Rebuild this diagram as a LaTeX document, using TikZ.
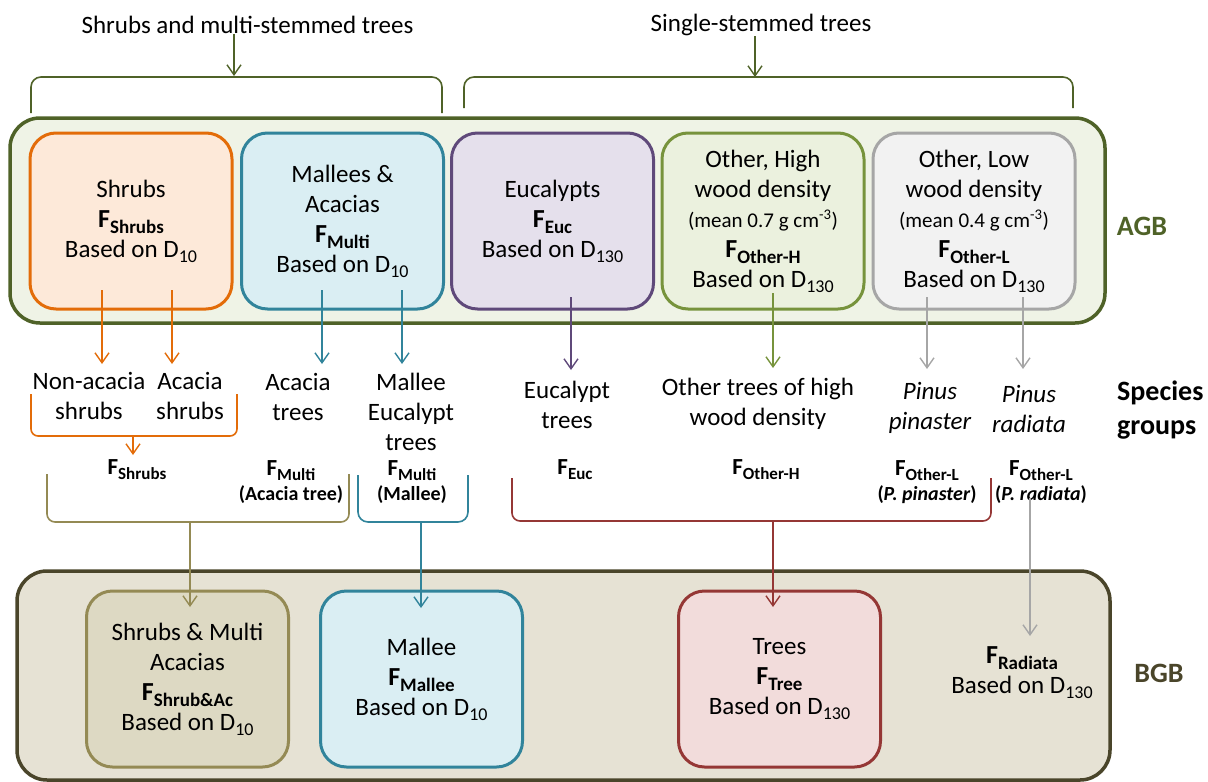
\documentclass[tikz,border=0pt]{standalone}
\usepackage{fontspec}
\setmainfont{Carlito}
\usetikzlibrary{arrows.meta}
\definecolor{agbline}{HTML}{4F6228}
\definecolor{agbfill}{HTML}{EFF3E6}
\definecolor{bgbline}{HTML}{4A452A}
\definecolor{bgbfill}{HTML}{E6E2D4}
\definecolor{orline}{HTML}{E36C09}
\definecolor{orfill}{HTML}{FDE9D9}
\definecolor{blline}{HTML}{31849B}
\definecolor{blfill}{HTML}{DAEEF3}
\definecolor{puline}{HTML}{5F497A}
\definecolor{pufill}{HTML}{E5E0EC}
\definecolor{grline}{HTML}{77933C}
\definecolor{grfill}{HTML}{EBF1DE}
\definecolor{gyline}{HTML}{A6A6A6}
\definecolor{gyfill}{HTML}{F2F2F2}
\definecolor{olline}{HTML}{948A54}
\definecolor{olfill}{HTML}{DDD9C3}
\definecolor{rdline}{HTML}{953735}
\definecolor{rdfill}{HTML}{F2DCDB}
\newcommand{\mainsz}{\fontsize{25}{30}\selectfont}
\newcommand{\Fsub}[1]{{\fontsize{23}{28}\selectfont\bfseries F\raisebox{-5pt}{\fontsize{17}{17}\selectfont #1}}}
\newcommand{\FsubB}[1]{{\fontsize{26}{30}\selectfont\bfseries F\raisebox{-6pt}{\fontsize{19}{19}\selectfont #1}}}
\newcommand{\Dsub}[1]{D\raisebox{-5pt}{\fontsize{18}{18}\selectfont #1}}
\tikzset{
  arr/.style={line width=1.4pt, -{Straight Barb[length=10pt,width=14pt]}},
  brk/.style={line width=1.6pt, rounded corners=8pt},
  box/.style={draw, line width=3pt, rounded corners=26pt, minimum width=202pt, minimum height=176pt, align=center, inner sep=0pt, font=\mainsz},
  outer/.style={draw, line width=3.5pt, rounded corners=30pt, inner sep=0pt},
  txt/.style={align=center, inner sep=0pt, font=\mainsz},
  flab/.style={align=center, inner sep=0pt, font=\fontsize{20}{25}\selectfont\bfseries},
  side/.style={align=left, inner sep=0pt, font=\fontsize{28}{34}\selectfont\bfseries},
}
\begin{document}
\begin{tikzpicture}[x=1pt,y=-1pt]
\useasboundingbox (0,0) rectangle (1208,782);
% top labels
\node[txt] (tl1) at (247.5,25) {Shrubs and multi-stemmed trees};
\node[txt] (tl2) at (761,25) {Single-stemmed trees};
\coordinate (b1t) at (234,76);
\coordinate (b2t) at (755,77);
\draw[arr, agbline] (tl1.south -| b1t) -- (b1t);
\draw[arr, agbline] (tl2.south -| b2t) -- (b2t);
\draw[brk, agbline, rounded corners=10pt] (31,113) -- (31,77) -- (442,77) -- (442,113);
\draw[brk, agbline, rounded corners=10pt] (464,108) -- (464,77) -- (1073,77) -- (1073,108);
% AGB
\node[outer, draw=agbline, fill=agbfill, minimum width=1095pt, minimum height=205pt] (agb) at (557.5,220.5) {};
\node[side, text=agbline] (agbl) at (1142,226) {AGB};
\node[box, draw=orline, fill=orfill] (shr) at (131,221) {Shrubs\\\FsubB{Shrubs}\\Based on \Dsub{10}};
\node[box, draw=blline, fill=blfill] (mul) at (342.5,221) {Mallees \&\\Acacias\\\FsubB{Multi}\\Based on \Dsub{10}};
\node[box, draw=puline, fill=pufill] (euc) at (552.5,221) {Eucalypts\\\FsubB{Euc}\\Based on \Dsub{130}};
\node[box, draw=grline, fill=grfill] (oth) at (763,221) {Other, High\\wood density\\{\fontsize{21}{24}\selectfont(mean 0.7 g cm\textsuperscript{-3})}\\\FsubB{Other-H}\\Based on \Dsub{130}};
\node[box, draw=gyline, fill=gyfill] (otl) at (974,221) {Other, Low\\wood density\\{\fontsize{21}{24}\selectfont(mean 0.4 g cm\textsuperscript{-3})}\\\FsubB{Other-L}\\Based on \Dsub{130}};
% species groups
\node[txt] (nonac) at (89,396) {Non-acacia\\shrubs};
\node[txt] (acsh) at (190,396) {Acacia\\shrubs};
\node[txt] (actr) at (298,397) {Acacia\\trees};
\node[txt] (mallt) at (411,412) {Mallee\\Eucalypt\\trees};
\node[txt] (euct) at (567,405) {Eucalypt\\trees};
\node[txt] (othh) at (758,404) {Other trees of high\\wood density};
\node[txt, font=\mainsz\itshape] (pinp) at (930,408) {Pinus\\pinaster};
\node[txt, font=\mainsz\itshape] (pinr) at (1029,409) {Pinus\\radiata};
\node[side, anchor=west] (spg) at (1117,410) {Species\\groups};
% arrows AGB -> species
\coordinate (o1s) at (102,290); \coordinate (o1e) at (102,364);
\coordinate (o2s) at (172,290); \coordinate (o2e) at (172,364);
\coordinate (c1s) at (322,290); \coordinate (c1e) at (322,364);
\coordinate (c2s) at (402,290); \coordinate (c2e) at (402,364);
\coordinate (p1s) at (571,297); \coordinate (p1e) at (571,370);
\coordinate (g1s) at (773,293); \coordinate (g1e) at (773,368);
\coordinate (y1s) at (927,297); \coordinate (y1e) at (927,369);
\coordinate (y2s) at (1023,297); \coordinate (y2e) at (1023,369);
\draw[arr, orline] (o1s) -- (o1e);
\draw[arr, orline] (o2s) -- (o2e);
\draw[arr, blline] (c1s) -- (c1e);
\draw[arr, blline] (c2s) -- (c2e);
\draw[arr, puline] (p1s) -- (p1e);
\draw[arr, grline] (g1s) -- (g1e);
\draw[arr, gyline] (y1s) -- (y1e);
\draw[arr, gyline] (y2s) -- (y2e);
% orange bracket
\draw[brk, orline, rounded corners=7pt] (31,394) -- (31,436) -- (237,436) -- (237,394);
\coordinate (obs) at (133,436); \coordinate (obe) at (133,455);
\draw[arr, orline] (obs) -- (obe);
% F labels
\node[flab] (fshr) at (137,470) {\Fsub{Shrubs}};
\node[flab] (fmac) at (291,482) {\Fsub{Multi}\\(Acacia tree)};
\node[flab] (fmal) at (412,482) {\Fsub{Multi}\\(Mallee)};
\node[flab] (feuc) at (575,470) {\Fsub{Euc}};
\node[flab] (foh) at (766,470) {\Fsub{Other-H}};
\node[flab] (folp) at (927,482) {\Fsub{Other-L}\\(\textit{P. pinaster})};
\node[flab] (folr) at (1041,482) {\Fsub{Other-L}\\(\textit{P. radiata})};
% lower brackets
\draw[brk, olline] (47,474) -- (47,522) -- (349,522) -- (349,474);
\draw[brk, blline, rounded corners=10pt] (358,475) -- (358,522) -- (468,522) -- (468,475);
\draw[brk, rdline] (512,478) -- (512,521) -- (991,521) -- (991,478);
% BGB
\node[outer, draw=bgbline, fill=bgbfill, minimum width=1093pt, minimum height=209pt] (bgb) at (563.5,675.5) {};
\node[side, text=bgbline] (bgbl) at (1159,673) {BGB};
\node[box, draw=olline, fill=olfill] (sma) at (187.5,679) {Shrubs \& Multi\\Acacias\\\FsubB{Shrub\&Ac}\\Based on \Dsub{10}};
\node[box, draw=blline, fill=blfill] (mal) at (421.5,679) {Mallee\\\FsubB{Mallee}\\Based on \Dsub{10}};
\node[box, draw=rdline, fill=rdfill] (tre) at (779.5,679) {Trees\\\FsubB{Tree}\\Based on \Dsub{130}};
\node[txt] (frad) at (1022,673) {\FsubB{Radiata}\\Based on \Dsub{130}};
% arrows to BGB
\coordinate (q1s) at (190,522); \coordinate (q1e) at (190,607);
\coordinate (q2s) at (421,522); \coordinate (q2e) at (421,608);
\coordinate (q3s) at (773,521); \coordinate (q3e) at (773,607);
\coordinate (q4e) at (1030,636);
\draw[arr, olline] (q1s) -- (q1e);
\draw[arr, blline] (q2s) -- (q2e);
\draw[arr, rdline] (q3s) -- (q3e);
\draw[arr, gyline] ([yshift=6pt]folr.south -| q4e) -- (q4e);
\end{tikzpicture}
\end{document}
